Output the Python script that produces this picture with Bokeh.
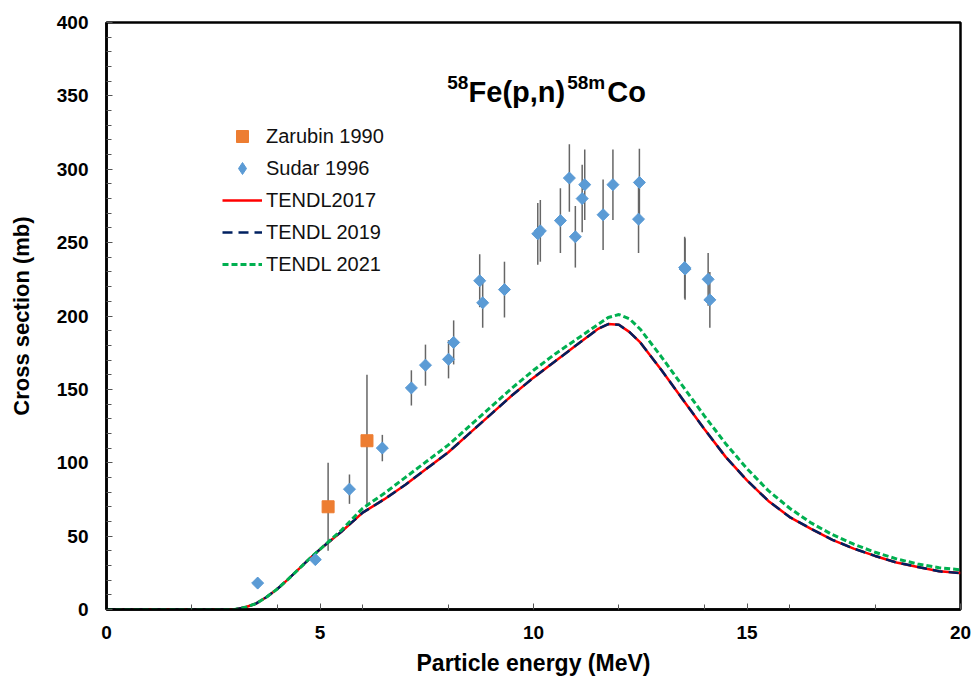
import numpy as np
from bokeh.plotting import figure
from bokeh.models import Range1d, FixedTicker, Label, Legend, LegendItem, ColumnDataSource
from bokeh.embed import file_html
from bokeh.resources import INLINE

# ---------------- data ----------------
tendl_energy = [0, 1, 2, 2.9, 3.0, 3.25, 3.5, 3.75, 4.0, 4.25, 4.5, 4.75, 5.0, 5.25, 5.5,
                6.0, 6.5, 7.0, 7.5, 8.0, 8.5, 9.0, 9.5, 10.0, 10.5, 11.0, 11.5, 11.75,
                12.0, 12.25, 12.5, 13.0, 13.5, 14.0, 14.5, 15.0, 15.5, 16.0, 16.5, 17.0,
                17.5, 18.0, 18.5, 19.0, 19.5, 20.0]
tendl2017 = [0, 0, 0, 0, 0, 1.5, 4, 8.5, 14, 20.5, 27.5, 34.5, 41, 47, 53,
             66, 75, 85, 96, 107, 120, 133, 146, 158, 169, 180, 191, 194.5,
             194, 189, 182, 163, 143, 123, 104, 88, 74, 63, 55, 47.5,
             41.5, 36.5, 32, 29, 26, 24.8]
tendl2019 = [0, 0, 0, 0, 0, 1.5, 4, 8.5, 14, 20.5, 27.5, 34.5, 41, 47, 53,
             66, 75, 85, 96, 107, 120, 133, 146, 158, 169, 180, 191, 194.5,
             194, 189, 182, 163, 143, 123, 104, 88, 74, 63, 55, 47.5,
             41.5, 36.5, 32, 29, 26, 24.8]
tendl2021 = [0, 0, 0, 0, 0, 1.5, 4, 8.5, 14, 20.5, 27.5, 34.5, 41, 47.5, 54,
             69, 79, 90, 101, 112, 125, 138, 151, 163, 174, 184, 194, 199,
             201, 198, 191, 172, 152, 132, 113, 96, 81, 69, 59, 51,
             44.5, 39, 34.5, 31, 28.5, 27]

zarubin_e = [5.19, 6.10]
zarubin_xs = [70, 115]
zarubin_err = [30, 45]

sudar_e = [3.54, 4.89, 5.69, 6.46, 7.14, 7.47, 8.01, 8.13, 8.74, 8.81, 9.32, 10.10, 10.16,
           10.63, 10.84, 10.98, 11.14, 11.20, 11.63, 11.86, 12.48, 12.46, 13.54, 13.55,
           14.09, 14.13]
sudar_xs = [18, 34, 82, 110, 151, 166.5, 170.5, 182, 224, 209, 218, 256, 258,
            265, 294, 254, 280, 289.5, 269, 289.5, 291, 266, 233, 232,
            225, 211]
sudar_err = [0, 0, 10, 9, 12, 14, 13, 15, 18, 17, 19, 21, 21,
             22, 23, 21, 23, 24, 24, 24, 23, 23, 21, 21,
             18, 19]

x_ticks = [0, 5, 10, 15, 20]
x_minor = [2, 4, 6, 8, 12, 14, 16, 18]
y_ticks = [0, 50, 100, 150, 200, 250, 300, 350, 400]
y_minor = [v for v in range(0, 401, 10) if v % 50 != 0]

FONT = "Liberation Sans"

# ---------------- figure ----------------
p = figure(width=974, height=682, output_backend="svg", toolbar_location=None,
           x_range=Range1d(0, 20), y_range=Range1d(0, 400),
           min_border_left=106, min_border_right=14, min_border_top=22, min_border_bottom=73)
p.background_fill_color = "white"
p.border_fill_color = "white"
p.outline_line_color = "black"
p.outline_line_width = 2.5
p.grid.visible = False

for ax in (p.xaxis[0], p.yaxis[0]):
    ax.axis_line_color = "black"
    ax.axis_line_width = 2.5
    ax.major_tick_in = 6
    ax.major_tick_out = 0
    ax.minor_tick_in = 5
    ax.minor_tick_out = 0
    ax.major_tick_line_color = "#555555"
    ax.minor_tick_line_color = "#555555"
    ax.major_tick_line_width = 1
    ax.minor_tick_line_width = 1
    ax.major_label_text_font = FONT
    ax.major_label_text_font_style = "bold"
    ax.major_label_text_font_size = "19px"
    ax.major_label_text_color = "black"
    ax.axis_label_text_font = FONT
    ax.axis_label_text_font_style = "bold"
    ax.axis_label_text_color = "black"

p.xaxis.ticker = FixedTicker(ticks=x_ticks, minor_ticks=x_minor)
p.yaxis.ticker = FixedTicker(ticks=y_ticks, minor_ticks=y_minor)
p.xaxis.axis_label = "Particle energy (MeV)"
p.yaxis.axis_label = "Cross section (mb)"
p.xaxis.axis_label_text_font_size = "23px"
p.yaxis.axis_label_text_font_size = "22px"
p.xaxis.major_label_standoff = 16
p.yaxis.major_label_standoff = 18
p.xaxis.axis_label_standoff = 8
p.yaxis.axis_label_standoff = 20

# ---------------- error bars ----------------
z_src = ColumnDataSource(dict(x=zarubin_e, y=zarubin_xs,
                              lo=[v - e for v, e in zip(zarubin_xs, zarubin_err)],
                              hi=[v + e for v, e in zip(zarubin_xs, zarubin_err)]))
s_src = ColumnDataSource(dict(x=sudar_e, y=sudar_xs,
                              lo=[v - e for v, e in zip(sudar_xs, sudar_err)],
                              hi=[v + e for v, e in zip(sudar_xs, sudar_err)]))
p.segment(x0="x", y0="lo", x1="x", y1="hi", source=z_src, line_color="#666666", line_width=1.5)
p.segment(x0="x", y0="lo", x1="x", y1="hi", source=s_src, line_color="#666666", line_width=1.5)

# ---------------- curves ----------------
r17 = p.line(tendl_energy, tendl2017, line_color="#FF0000", line_width=2.5)
r19 = p.line(tendl_energy, tendl2019, line_color="#002060", line_width=2.5, line_dash="10 6")
r21 = p.line(tendl_energy, tendl2021, line_color="#00B050", line_width=3, line_dash="6 3")

# ---------------- markers ----------------
rz = p.scatter("x", "y", source=z_src, marker="square", size=12, fill_color="#ED7D31",
               line_color="#ED7D31")
# diamond glyph (used as legend key), fully covered by the rotated squares below
rs_key = p.scatter("x", "y", source=s_src, marker="diamond", size=11,
                   fill_color="#5B9BD5", line_color="#5B9BD5")
rs = p.scatter("x", "y", source=s_src, marker="square", angle=np.pi / 4, size=8.5,
               fill_color="#5B9BD5", line_color="#5B9BD5")

# ---------------- legend ----------------
legend = Legend(items=[LegendItem(label="Zarubin 1990", renderers=[rz]),
                       LegendItem(label="Sudar 1996", renderers=[rs_key]),
                       LegendItem(label="TENDL2017", renderers=[r17]),
                       LegendItem(label="TENDL 2019", renderers=[r19]),
                       LegendItem(label="TENDL 2021", renderers=[r21])],
                location=(116, 330))
legend.label_text_font = FONT
legend.label_text_font_size = "20px"
legend.label_text_color = "#111111"
legend.glyph_width = 40
legend.glyph_height = 30
legend.label_height = 30
legend.spacing = 2
legend.label_standoff = 4
legend.padding = 0
legend.margin = 0
legend.border_line_alpha = 0
legend.background_fill_alpha = 0
p.add_layout(legend)

# ---------------- title with superscripts ----------------
pieces = [("58", 7.98, 359.3, "19px"), ("Fe(p,n)", 8.48, 352.8, "29px"),
          ("58m", 10.79, 359.3, "19px"), ("Co", 11.73, 352.8, "29px")]
for txt, xx, yy, fs in pieces:
    p.add_layout(Label(x=xx, y=yy, text=txt, text_font=FONT, text_font_style="bold",
                       text_font_size=fs, text_color="black", text_baseline="alphabetic",
                       text_align="left"))

open("out.html", "w").write(file_html(p, INLINE))
